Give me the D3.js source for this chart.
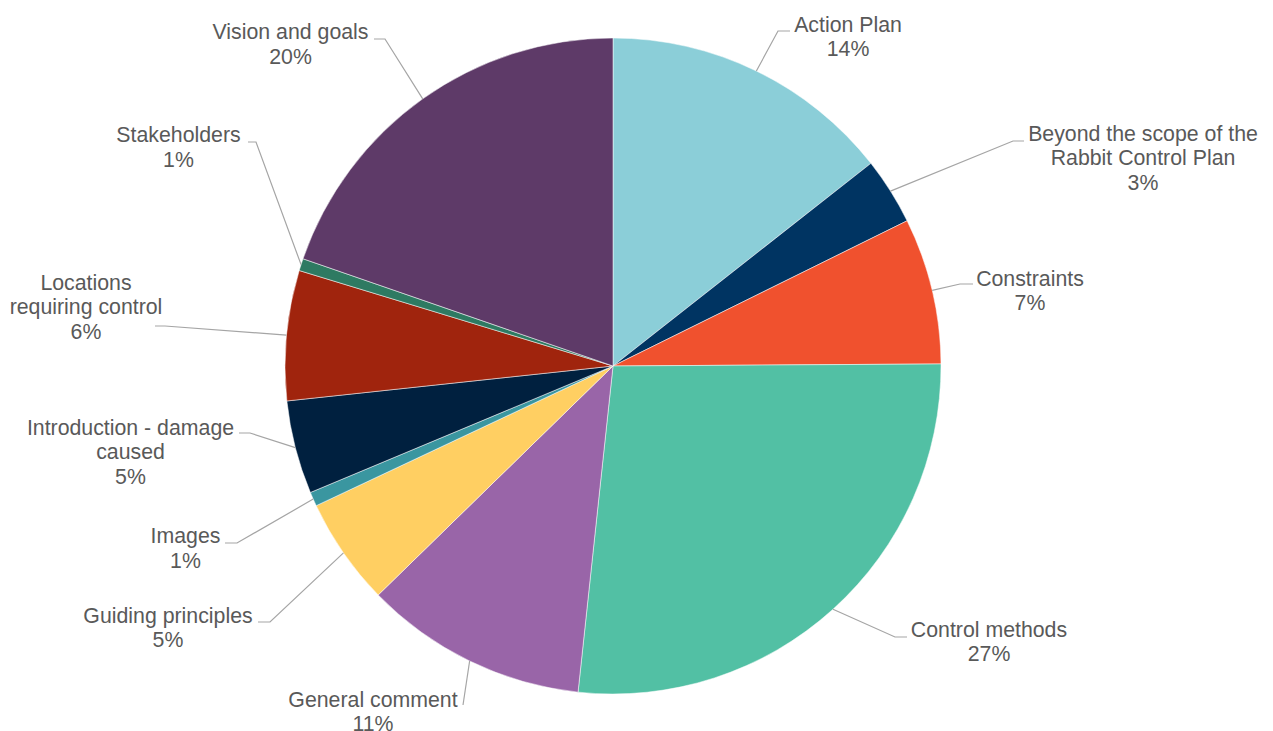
<!DOCTYPE html>
<html>
<head>
<meta charset="utf-8">
<script src="https://cdn.jsdelivr.net/npm/d3@7"></script>
<style>
  html, body { margin: 0; padding: 0; background: #fff; }
  svg text { font-family: "Liberation Sans", Arial, sans-serif; font-size: 21.3px; fill: #595959; }
</style>
</head>
<body>
<div id="chart"></div>
<script>
// slice order clockwise from 12 o'clock
var categories = ["Action Plan", "Beyond the scope of the Rabbit Control Plan", "Constraints",
  "Control methods", "General comment", "Guiding principles", "Images",
  "Introduction - damage caused", "Locations requiring control", "Stakeholders", "Vision and goals"]
var values = [14.4, 3.3, 7.2, 26.8, 11.0, 5.3, 0.7, 4.6, 6.4, 0.6, 19.7]
var colors = ["#8BCED8", "#003462", "#F0512E", "#52C0A4", "#9965A8", "#FFCF62",
  "#3A96A0", "#00203F", "#A0240D", "#2E7A62", "#5E3A68"]

var width = 1273, height = 731
var cx = 613, cy = 366, radius = 328

// label placement: text centre x, first baseline y, wrapped lines, leader elbow and end
var labelLayout = {
  "Action Plan": { x: 848, y: 31.7, lines: ["Action Plan"], elbow: [778, 31], end: [790, 31] },
  "Beyond the scope of the Rabbit Control Plan": { x: 1143, y: 140.7, lines: ["Beyond the scope of the", "Rabbit Control Plan"], elbow: [1013, 141], end: [1024, 141] },
  "Constraints": { x: 1030, y: 285.7, lines: ["Constraints"], elbow: [960, 284], end: [973, 284] },
  "Control methods": { x: 989, y: 637, lines: ["Control methods"], elbow: [895, 637], end: [907, 637] },
  "General comment": { x: 373, y: 706.7, lines: ["General comment"], elbow: [463, 705], end: [463, 705] },
  "Guiding principles": { x: 168, y: 622.7, lines: ["Guiding principles"], elbow: [270, 622], end: [258, 622] },
  "Images": { x: 185.5, y: 543.3, lines: ["Images"], elbow: [237, 543], end: [225, 543] },
  "Introduction - damage caused": { x: 130.5, y: 435, lines: ["Introduction - damage", "caused"], elbow: [250, 433], end: [239, 433] },
  "Locations requiring control": { x: 86, y: 290, lines: ["Locations", "requiring control"], elbow: [165, 326], end: [155, 326] },
  "Stakeholders": { x: 178.5, y: 142.3, lines: ["Stakeholders"], elbow: [256, 142], end: [248, 142] },
  "Vision and goals": { x: 290.5, y: 39.3, lines: ["Vision and goals"], elbow: [385, 39], end: [374, 39] }
}
var lineHeight = 24.4

var data = categories.map(function(c, i) { return { name: c, value: values[i], color: colors[i] } })
var total = d3.sum(values)
var pct = d3.format(".0%")

var svg = d3.select("#chart")
  .append("svg")
    .attr("width", width)
    .attr("height", height)

var g = svg.append("g")
  .attr("transform", "translate(" + cx + "," + cy + ")")

var pie = d3.pie()
  .sort(null)
  .value(function(d) { return d.value })

var arc = d3.arc().innerRadius(0).outerRadius(radius)
var edgeArc = d3.arc().innerRadius(radius).outerRadius(radius)

var arcs = pie(data)

// slices
g.selectAll("path.slice")
  .data(arcs)
  .enter()
  .append("path")
    .attr("class", "slice")
    .attr("d", arc)
    .attr("fill", function(d) { return d.data.color })
    .attr("stroke", "#fff")
    .attr("stroke-width", 0.5)

// leader lines
svg.append("g")
  .selectAll("polyline")
  .data(arcs)
  .enter()
  .append("polyline")
    .attr("fill", "none")
    .attr("stroke", "#A5A5A5")
    .attr("stroke-width", 1.2)
    .attr("points", function(d) {
      var p = edgeArc.centroid(d)
      var L = labelLayout[d.data.name]
      return [[cx + p[0], cy + p[1]], L.elbow, L.end].map(function(q) { return q.join(",") }).join(" ")
    })

// labels
var labels = svg.append("g")
  .selectAll("text")
  .data(arcs)
  .enter()
  .append("text")
    .attr("text-anchor", "middle")

labels.each(function(d) {
  var L = labelLayout[d.data.name]
  var t = d3.select(this)
  var lines = L.lines.concat([pct(d.data.value / total)])
  lines.forEach(function(s, i) {
    t.append("tspan")
      .attr("x", L.x)
      .attr("y", L.y + i * lineHeight)
      .text(s)
  })
})
</script>
</body>
</html>
